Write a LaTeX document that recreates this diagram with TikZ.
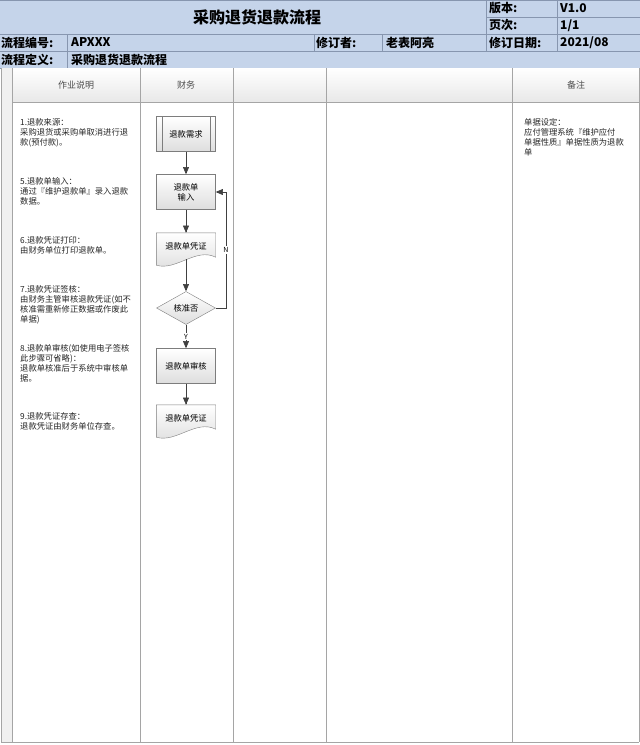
\documentclass[tikz,border=0pt]{standalone}
\usepackage{fontspec}
\setmainfont{Noto Sans CJK SC}
\usetikzlibrary{shapes,arrows,calc,backgrounds}
\definecolor{hdrblue}{RGB}{197,212,234}
\definecolor{hdrline}{RGB}{135,150,175}
\definecolor{laneline}{RGB}{165,165,165}
\definecolor{shapeline}{RGB}{125,125,125}
\definecolor{arrowgray}{RGB}{64,64,64}
\newcommand{\docshape}[1]{\shade[draw=shapeline, top color=white, bottom color=black!13] (#1.north west) -- (#1.north east) -- ($(#1.south east)+(0,-2)$) .. controls ($(#1.south)+(10,-12)$) and ($(#1.south)+(-10,12)$) .. ($(#1.south west)+(0,6)$) -- cycle}

\begin{document}
\begin{tikzpicture}
[
x=1pt, y=-1pt, >=triangle 45, font=\fontsize{8.3}{10}\selectfont,
hdr/.style      = {font=\fontsize{12}{13}\selectfont\bfseries, inner sep=0pt, anchor=west},
lanehead/.style = {font=\fontsize{9}{10}\selectfont, text=black!70},
note/.style     = {align=left, anchor=north west, inner sep=0pt, text=black!85},
block/.style    = {draw=shapeline, rectangle, top color=white, bottom color=black!13, minimum height=35pt, minimum width=59pt, inner sep=1pt, align=center},
decision/.style = {draw=shapeline, diamond, top color=white, bottom color=black!13, minimum height=33pt, minimum width=59pt, inner sep=0pt},
docbox/.style   = {rectangle, minimum height=26pt, minimum width=59pt, inner sep=0pt},
flow/.style     = {->, draw=arrowgray, line width=.65pt},
yn/.style       = {fill=white, inner sep=1pt, font=\fontsize{7}{8}\selectfont},
]
\useasboundingbox (0,0) rectangle (640,745);

% header block
\fill[hdrblue] (0,0) rectangle (640,68);
\draw[hdrline] (0,.5) -- (640,.5);
\draw[hdrline] (486,17) -- (640,17);
\foreach \y in {34,51,68} \draw[hdrline] (0,\y) -- (640,\y);
\draw[hdrline] (486,0) -- (486,51);
\draw[hdrline] (557,0) -- (557,51);
\draw[hdrline] (314,34) -- (314,51);
\draw[hdrline] (382,34) -- (382,51);
\draw[hdrline] (67,34) -- (67,68);

\node at (257,17)[font=\fontsize{16}{18}\selectfont\bfseries] (title) {采购退货退款流程};
\node at (489,8.5)[hdr] (verkey) {版本:};
\node at (560,8.5)[hdr] (verval) {V1.0};
\node at (489,25.5)[hdr] (pagekey) {页次:};
\node at (560,25.5)[hdr] (pageval) {1/1};
\node at (1,42.5)[hdr] (nokey) {流程编号:};
\node at (71,42.5)[hdr] (noval) {APXXX};
\node at (316,42.5)[hdr] (revkey) {修订者:};
\node at (386,42.5)[hdr] (revval) {老表阿亮};
\node at (489,42.5)[hdr] (datekey) {修订日期:};
\node at (560,42.5)[hdr] (dateval) {2021/08};
\node at (1,59.5)[hdr] (defkey) {流程定义:};
\node at (71,59.5)[hdr] (defval) {采购退货退款流程};

% lanes
\fill[black!6] (1,68) rectangle (12,742);
\shade[top color=white, bottom color=black!9] (12,68) rectangle (639,102);
\foreach \x in {1,12,140,233,326,512,639} \draw[laneline, line width=1pt] (\x,68) -- (\x,742);
\draw[laneline, line width=1pt] (12,102) -- (639,102);
\draw[laneline, line width=1pt] (1,742) -- (639,742);

\node at (76,85)[lanehead] (laneA) {作业说明};
\node at (186,85)[lanehead] (laneB) {财务};
\node at (576,85)[lanehead] (laneE) {备注};

% step notes
\node at (20,118)[note] (note1) {1.退款来源：\\采购退货或采购单取消进行退\\款(预付款)。};
\node at (20,177)[note] (note5) {5.退款单输入：\\通过『维护退款单』录入退款\\数据。};
\node at (20,236)[note] (note6) {6.退款凭证打印：\\由财务单位打印退款单。};
\node at (20,285)[note] (note7) {7.退款凭证签核：\\由财务主管审核退款凭证(如不\\核准需重新修正数据或作废此\\单据)};
\node at (20,344)[note] (note8) {8.退款单审核(如使用电子签核\\此步骤可省略)：\\退款单核准后于系统中审核单\\据。};
\node at (20,412)[note] (note9) {9.退款凭证存查：\\退款凭证由财务单位存查。};
\node at (524,118)[note] (remark) {单据设定：\\应付管理系统『维护应付\\单据性质』单据性质为退款\\单};

% flow
\node at (186,134)[block] (need) {退款需求};
\draw[shapeline] ($(need.north west)+(6,0)$) -- ($(need.south west)+(6,0)$);
\draw[shapeline] ($(need.north east)+(-6,0)$) -- ($(need.south east)+(-6,0)$);
\node at (186,192)[block] (input) {退款单\\输入};
\node at (186,246)[docbox] (vouchA) {退款单凭证};
\node at (186,308)[decision] (check) {核准否};
\node at (186,366)[block] (audit) {退款单审核};
\node at (186,418)[docbox] (vouchB) {退款单凭证};
\begin{pgfonlayer}{background}
\docshape{vouchA};
\docshape{vouchB};
\end{pgfonlayer}

\draw[flow] (need) -- (input);
\draw[flow] (input) -- (vouchA);
\draw[flow] (vouchA.south) -- (check);
\draw[flow] (check) -- node[yn] (yes) {Y} (audit);
\draw[flow] (audit) -- (vouchB);
\coordinate (nturn) at (226,308);
\draw[flow] (check.east) -- (nturn) -- node[yn] (no) {N} (nturn |- input.east) -- (input.east);
\end{tikzpicture}
\end{document}
